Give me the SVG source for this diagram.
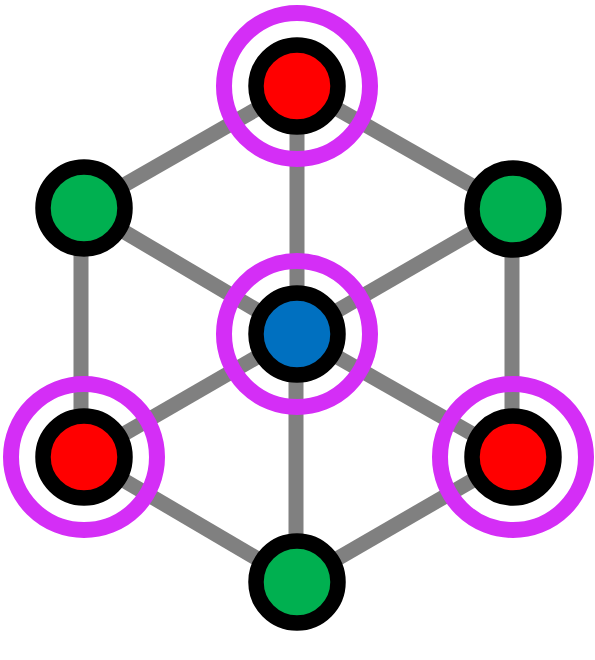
<svg xmlns="http://www.w3.org/2000/svg" width="595" height="660" viewBox="0 0 595 660">
<style>
.e{stroke:#808080;stroke-width:15;fill:none}
.n{stroke:#000;stroke-width:15.5}
.r{fill:#FF0000}.g{fill:#00B050}.b{fill:#0070C0}
.h{fill:none;stroke:#D42EF6;stroke-width:16}
</style>
<rect width="595" height="660" fill="#fff"/>
<g id="edges">
<line class="e" x1="297" y1="86" x2="84" y2="208"/>
<line class="e" x1="297" y1="86" x2="513" y2="209"/>
<line class="e" x1="297" y1="86" x2="297" y2="334"/>
<line class="e" x1="84" y1="208" x2="297" y2="334"/>
<line class="e" x1="513" y1="209" x2="297" y2="334"/>
<line class="e" x1="81" y1="208" x2="81" y2="457"/>
<line class="e" x1="512" y1="209" x2="512" y2="457"/>
<line class="e" x1="297" y1="334" x2="84" y2="457"/>
<line class="e" x1="297" y1="334" x2="513" y2="457"/>
<line class="e" x1="296" y1="334" x2="296" y2="582"/>
<line class="e" x1="84" y1="457" x2="297" y2="582"/>
<line class="e" x1="513" y1="457" x2="297" y2="582"/>
</g>
<g id="n-top"><circle class="n r" cx="297" cy="86" r="41"/><circle class="h" cx="297" cy="86" r="73"/></g>
<g id="n-ul"><circle class="n g" cx="84" cy="208" r="41"/></g>
<g id="n-ur"><circle class="n g" cx="513" cy="209" r="41"/></g>
<g id="n-center"><circle class="n b" cx="297" cy="334" r="41"/><circle class="h" cx="297" cy="334" r="73"/></g>
<g id="n-ll"><circle class="n r" cx="84" cy="457" r="41"/><circle class="h" cx="84" cy="457" r="73"/></g>
<g id="n-lr"><circle class="n r" cx="513" cy="457" r="41"/><circle class="h" cx="513" cy="457" r="73"/></g>
<g id="n-bottom"><circle class="n g" cx="297" cy="582" r="41"/></g>
</svg>
